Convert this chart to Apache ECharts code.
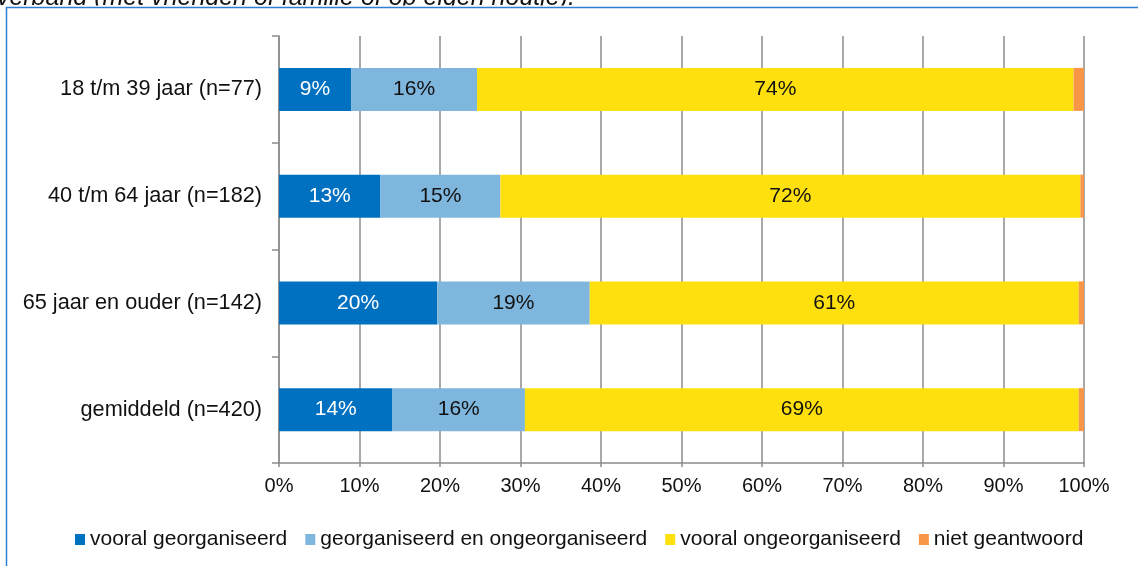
<!DOCTYPE html>
<html>
<head>
<meta charset="utf-8">
<script src="https://cdn.jsdelivr.net/npm/echarts@6/dist/echarts.min.js"></script>
<style>
    html, body { margin: 0; padding: 0; background: #fff; }
    #e1 { width: 1138px; height: 566px; }
</style>
</head>
<body>
<div id="e1"></div>
<script>
    var categories = ['18 t/m 39 jaar (n=77)', '40 t/m 64 jaar (n=182)', '65 jaar en ouder (n=142)', 'gemiddeld (n=420)'];
    var seriesNames = ['vooral georganiseerd', 'georganiseerd en ongeorganiseerd', 'vooral ongeorganiseerd', 'niet geantwoord'];
    var georganiseerd = [8.95, 12.6, 19.65, 14.1];
    var beide = [15.65, 14.9, 18.95, 16.45];
    var ongeorganiseerd = [74.1, 72.05, 60.75, 68.8];
    var nietGeantwoord = [1.3, 0.45, 0.65, 0.65];
    var xTicks = [0, 10, 20, 30, 40, 50, 60, 70, 80, 90, 100];
    var colors = ['#0070c0', '#7fb6dd', '#fee00e', '#f79646'];
    var labelColors = ['#ffffff', '#111111', '#111111', null];

    var e1 = echarts.init(document.getElementById('e1'));
    var font = 'Arial, "Liberation Sans", sans-serif';
    var allData = [georganiseerd, beide, ongeorganiseerd, nietGeantwoord];

    var series = [];
    for (var i = 0; i < seriesNames.length; i++) {
        series.push({
            name: seriesNames[i],
            type: 'bar',
            stack: 'tot',
            barWidth: 43,
            data: allData[i],
            itemStyle: { color: colors[i] },
            label: {
                show: labelColors[i] != null,
                position: 'inside',
                color: labelColors[i] || '#000',
                fontSize: 21,
                fontFamily: font,
                formatter: function (p) {
                    return Math.round(p.value) + '%';
                }
            }
        });
    }

    var option1 = {
        animation: false,
        color: colors,
        textStyle: { fontFamily: font },
        graphic: [{
            type: 'text',
            style: {
                x: 575, y: 10.5,
                text: 'verband (met vrienden of familie of op eigen houtje).',
                font: 'italic 25px ' + font,
                fill: '#111',
                textAlign: 'right',
                textVerticalAlign: 'bottom'
            }
        }, {
            //标题被截断的部分
            type: 'rect',
            shape: { x: 0, y: 5.5, width: 1138, height: 10 },
            style: { fill: '#fff' },
            silent: true
        }, {
            type: 'rect',
            shape: { x: 6.5, y: 7.5, width: 1200, height: 700 },
            style: { fill: null, stroke: '#2e7fcf', lineWidth: 1.5 },
            silent: true
        }],
        legend: {
            left: 75,
            top: 529,
            padding: 0,
            icon: 'rect',
            itemWidth: 10,
            itemHeight: 11,
            itemGap: 18,
            textStyle: { fontSize: 21, color: '#111', fontFamily: font },
            data: seriesNames
        },
        grid: {
            left: 279,
            right: 54,
            top: 36,
            bottom: 103
        },
        xAxis: {
            type: 'value',
            min: xTicks[0],
            max: xTicks[xTicks.length - 1],
            interval: 10,
            axisLine: { show: true, lineStyle: { color: '#8c8c8c', width: 1.5 } },
            axisTick: { show: true, length: 4, lineStyle: { color: '#8c8c8c', width: 1.5 } },
            splitLine: { show: true, lineStyle: { color: '#8c8c8c', width: 1.5 } },
            axisLabel: {
                margin: 13,
                fontSize: 20,
                color: '#111',
                fontFamily: font,
                formatter: '{value}%'
            }
        },
        yAxis: {
            type: 'category',
            inverse: true,
            data: categories,
            axisLine: { show: true, lineStyle: { color: '#8c8c8c', width: 1.5 } },
            axisTick: { show: true, length: 7, interval: 0, lineStyle: { color: '#8c8c8c', width: 1.5 } },
            axisLabel: {
                margin: 17,
                fontSize: 21.7,
                color: '#111',
                fontFamily: font
            }
        },
        series: series
    };
    e1.setOption(option1);
</script>
</body>
</html>
